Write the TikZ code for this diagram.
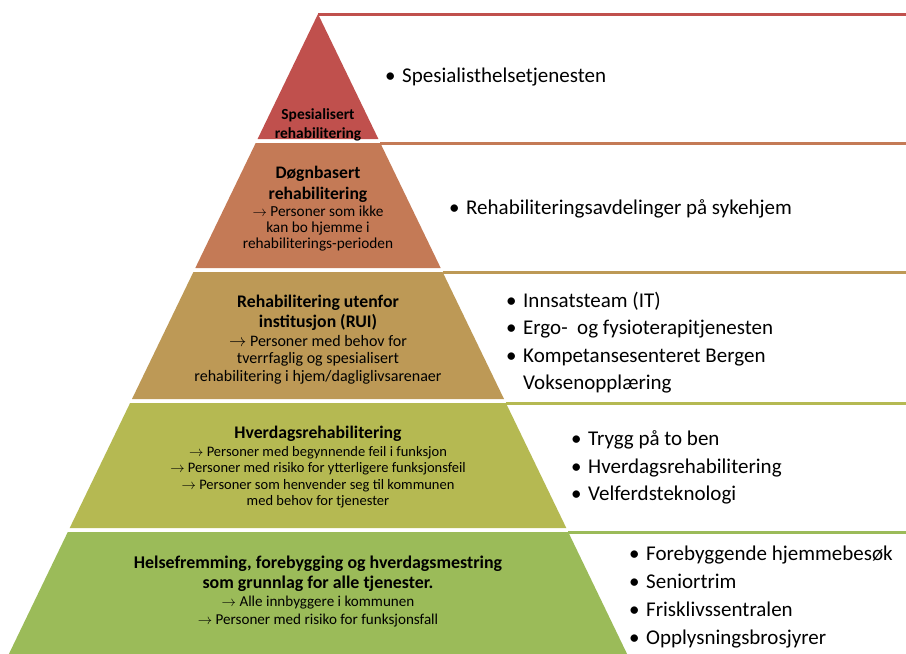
\documentclass[tikz,border=0pt]{standalone}
\usepackage{fontspec}
\setmainfont{Carlito}
\usetikzlibrary{positioning}
\definecolor{bandred}{RGB}{192,80,77}
\definecolor{bandbrown}{RGB}{196,122,86}
\definecolor{bandtan}{RGB}{189,153,86}
\definecolor{bandolive}{RGB}{181,185,82}
\definecolor{bandgreen}{RGB}{155,187,89}
\newcommand{\blt}{\makebox[17pt][l]{•}}
\newcommand{\arr}{$\rightarrow$\ }
\newcommand{\fs}[2]{\fontsize{#1}{#2}\selectfont}
\tikzset{
  band/.style={fill=#1,draw=none},
  bandline/.style={draw=#1,line width=3pt},
  ttl/.style={font=\bfseries\fs{17.7}{20.5},align=center,inner sep=0pt},
  subtxt/.style={font=\fs{14.5}{16.3},align=center,inner sep=0pt},
  lst/.style={font=\fs{21}{27.5},align=left,anchor=west,inner sep=0pt}
}
\begin{document}
\begin{tikzpicture}[x=1pt,y=-1pt]
\useasboundingbox[fill=white] (0,0) rectangle (906,654);

% pyramid corners
\coordinate (apex) at (318,14);
\coordinate (b2tr) at (380.3,143);
\coordinate (b3tr) at (442.6,272);
\coordinate (b4tr) at (505.9,403);
\coordinate (b5tr) at (568.2,532);

% bands
\fill[band=bandred] (apex) -- (378.4,139) -- (257.6,139) -- cycle;
\fill[band=bandbrown] (255.7,143) -- (b2tr) -- (440.7,268) -- (195.3,268) -- cycle;
\fill[band=bandtan] (193.4,272) -- (b3tr) -- (504.0,399) -- (132.0,399) -- cycle;
\fill[band=bandolive] (130.1,403) -- (b4tr) -- (566.3,528) -- (69.7,528) -- cycle;
\fill[band=bandgreen] (67.8,532) -- (b5tr) -- (627.1,654) -- (8.9,654) -- cycle;

% lines to the right
\draw[bandline=bandred] ([yshift=-0.5pt]apex) -- ([yshift=-0.5pt]apex -| 906,0);
\draw[bandline=bandbrown] (b2tr) -- (b2tr -| 906,0);
\draw[bandline=bandtan] (b3tr) -- (b3tr -| 906,0);
\draw[bandline=bandolive] (b4tr) -- (b4tr -| 906,0);
\draw[bandline=bandgreen] (b5tr) -- (b5tr -| 906,0);

% texts in the pyramid
\node[ttl,font=\bfseries\fs{15.4}{19}] (spes) at (318,124.5) {Spesialisert\\rehabilitering};

\node[ttl,font=\bfseries\fs{17.6}{21}] (dogn) at (318,184) {Døgnbasert\\rehabilitering};
\node[subtxt,font=\fs{15.3}{16},below=3pt of dogn] (dognsub) {\arr Personer som ikke\\kan bo hjemme i\\rehabiliterings-perioden};

\node[ttl,font=\bfseries\fs{17.7}{20}] (rui) at (318,313) {Rehabilitering utenfor\\institusjon (RUI)};
\node[subtxt,font=\fs{16}{17.5},below=4pt of rui] (ruisub) {\arr Personer med behov for\\tverrfaglig og spesialisert\\rehabilitering i hjem/dagliglivsarenaer};

\node[ttl] (hverd) at (318,433.5) {Hverdagsrehabilitering};
\node[subtxt,below=5pt of hverd] (hverdsub) {\arr Personer med begynnende feil i funksjon\\\arr Personer med risiko for ytterligere funksjonsfeil\\\arr Personer som henvender seg til kommunen\\med behov for tjenester};

\node[ttl,font=\bfseries\fs{17.9}{20}] (helse) at (318,574) {Helsefremming, forebygging og hverdagsmestring\\som grunnlag for alle tjenester.};
\node[subtxt,font=\fs{15.1}{18},below=4pt of helse] (helsesub) {\arr Alle innbyggere i kommunen\\\arr Personer med risiko for funksjonsfall};

% lists on the right
\node[lst] (lst1) at (385,77) {\blt Spesialisthelsetjenesten};
\node[lst] (lst2) at (449,209) {\blt Rehabiliteringsavdelinger på sykehjem};
\node[lst] (lst3) at (506,342.5) {\blt Innsatsteam (IT)\\\blt Ergo-\ \ og fysioterapitjenesten\\\blt Kompetansesenteret Bergen\\\hspace*{17pt}Voksenopplæring};
\node[lst] (lst4) at (571,467.5) {\blt Trygg på to ben\\\blt Hverdagsrehabilitering\\\blt Velferdsteknologi};
\node[lst,font=\fs{21}{28}] (lst5) at (629,597) {\blt Forebyggende hjemmebesøk\\\blt Seniortrim\\\blt Frisklivssentralen\\\blt Opplysningsbrosjyrer};
\end{tikzpicture}
\end{document}
